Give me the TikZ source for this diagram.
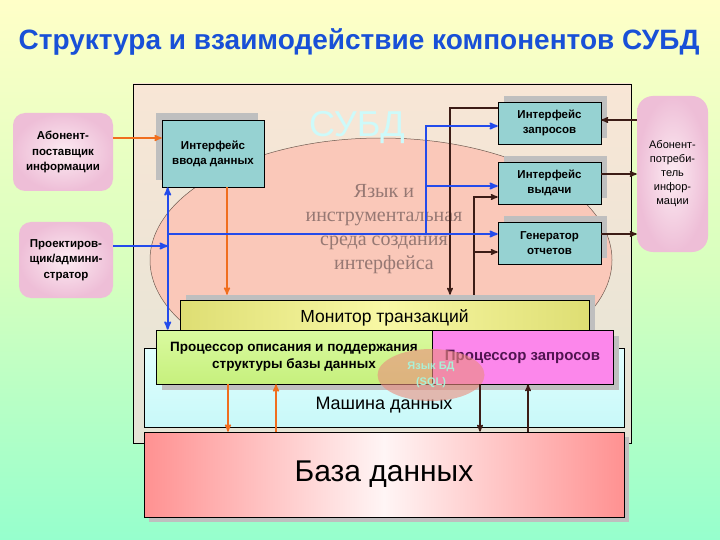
\documentclass[tikz,border=0pt]{standalone}
\usepackage{fontspec}
\setmainfont{Liberation Sans}
\newfontfamily\serifcyr{Liberation Serif}
\usepackage{tikz}
\usetikzlibrary{arrows,shapes.geometric,shadows}

\definecolor{titleblue}{RGB}{25,80,215}
\definecolor{bgtop}{RGB}{255,255,200}
\definecolor{bgmid}{RGB}{215,255,190}
\definecolor{bgbot}{RGB}{150,255,205}
\definecolor{frametop}{RGB}{248,230,214}
\definecolor{framebot}{RGB}{228,228,214}
\definecolor{ellipsefill}{RGB}{250,200,185}
\definecolor{ellipseline}{RGB}{110,90,80}
\definecolor{subdtext}{RGB}{205,250,250}
\definecolor{langtext}{RGB}{150,120,115}
\definecolor{ifacefill}{RGB}{150,210,210}
\definecolor{pinkin}{RGB}{252,235,242}
\definecolor{pinkout}{RGB}{238,190,215}
\definecolor{monside}{RGB}{222,222,115}
\definecolor{monmid}{RGB}{248,248,165}
\definecolor{engtop}{RGB}{225,255,255}
\definecolor{engbot}{RGB}{200,248,248}
\definecolor{descrtop}{RGB}{218,250,160}
\definecolor{descrbot}{RGB}{198,240,125}
\definecolor{qprocfill}{RGB}{252,135,235}
\definecolor{qproctext}{RGB}{80,20,80}
\definecolor{sqlfill}{RGB}{235,140,125}
\definecolor{sqltext}{RGB}{170,240,215}
\definecolor{dbside}{RGB}{255,145,145}
\definecolor{dbmid}{RGB}{255,245,245}
\definecolor{linkblue}{RGB}{35,75,235}
\definecolor{linkorange}{RGB}{240,110,30}
\definecolor{linkdark}{RGB}{60,28,22}

\begin{document}
\begin{tikzpicture}[x=1pt,y=-1pt,>=stealth',semithick,
    box/.style={draw=black,line width=0.6pt,inner sep=2pt,align=center},
    iface/.style={box,fill=ifacefill,minimum width=103pt,minimum height=42pt,font=\fontsize{11.5}{15}\selectfont\bfseries},
    shadowl/.style={drop shadow={shadow xshift=-6pt,shadow yshift=7pt,fill=black!25,opacity=1}},
    shadowr/.style={drop shadow={shadow xshift=6pt,shadow yshift=6pt,fill=black!25,opacity=1}},
    shadowb/.style={drop shadow={shadow xshift=6pt,shadow yshift=-6pt,fill=black!25,opacity=1}},
    actor/.style={rounded corners=12pt,inner color=pinkin,outer color=pinkout,align=center,inner sep=2pt},
    bluelink/.style={->,draw=linkblue,line width=1.8pt},
    orangelink/.style={->,draw=linkorange,line width=1.5pt},
    darklink/.style={->,draw=linkdark,line width=1.4pt}]
			\useasboundingbox (0,0) rectangle (720,540);
			\shade[top color=bgtop,bottom color=bgbot,middle color=bgmid] (0,0) rectangle (720,540);

			\node[font=\fontsize{28}{32}\selectfont\bfseries,text=titleblue] (title) at (359,42) {Структура и взаимодействие компонентов СУБД};

			\node[draw,line width=0.6pt,top color=frametop,bottom color=framebot,minimum width=498pt,minimum height=359pt] (dbms) at (382,263.5) {};
			\node[ellipse,draw=ellipseline,line width=0.5pt,fill=ellipsefill,minimum width=462pt,minimum height=244pt,inner sep=0pt] (lang) at (381,260) {};
			\node[font=\fontsize{36}{40}\selectfont,text=subdtext] (subd) at (357,128) {СУБД};
			\node[font=\serifcyr\fontsize{20}{24}\selectfont,text=langtext,align=center] (langtxt) at (384,229) {Язык и\\инструментальная\\среда создания\\интерфейса};

			\node[iface,shadowl,minimum width=102pt,minimum height=67pt] (inp) at (213,153.5) {Интерфейс\\ввода данных};
			\node[iface,shadowr] (qry) at (549.5,123) {Интерфейс\\запросов};
			\node[iface,shadowr] (out) at (549.5,183) {Интерфейс\\выдачи};
			\node[iface,shadowr] (rep) at (549.5,243) {Генератор\\отчетов};

			\node[actor,minimum width=100pt,minimum height=78pt,font=\fontsize{11.5}{15.5}\selectfont\bfseries] (supp) at (63,152) {Абонент-\\поставщик\\информации};
			\node[actor,minimum width=94pt,minimum height=76pt,font=\fontsize{11.5}{15.5}\selectfont\bfseries] (admin) at (66,260) {Проектиров-\\щик/админи-\\стратор};
			\node[actor,rounded corners=16pt,minimum width=71pt,minimum height=156pt,font=\fontsize{11}{14}\selectfont] (cons) at (672.5,174) {Абонент-\\потреби-\\тель\\инфор-\\мации};

			\node[box,drop shadow={shadow xshift=6pt,shadow yshift=5pt,fill=black!25,opacity=1},left color=monside,right color=monside,middle color=monmid,minimum width=409pt,minimum height=36pt,font=\fontsize{17.5}{20}\selectfont] (mon) at (384.5,318) {Монитор транзакций};
			\node[box,top color=engtop,bottom color=engbot,minimum width=480pt,minimum height=79pt] (eng) at (384,387.5) {};
			\node[font=\fontsize{18}{20}\selectfont] (englbl) at (384,405) {Машина данных};
			\node[box,shadowb,top color=descrtop,bottom color=descrbot,minimum width=276pt,minimum height=54pt,font=\fontsize{13.5}{17}\selectfont\bfseries] (descr) at (294,357) {Процессор описания и поддержания\\структуры базы данных};
			\node[box,shadowb,fill=qprocfill,text=qproctext,minimum width=181pt,minimum height=54pt,font=\fontsize{15}{18}\selectfont\bfseries] (qproc) at (522.5,357) {Процессор запросов};
			\node[ellipse,fill=sqlfill,fill opacity=0.6,text opacity=1,text=sqltext,minimum width=107pt,minimum height=52pt,align=center,font=\fontsize{11}{16}\selectfont\bfseries] (sql) at (431,375) {Язык БД\\(SQL)};

			\node[box,drop shadow={shadow xshift=5pt,shadow yshift=-5pt,fill=black!25,opacity=1},left color=dbside,right color=dbside,middle color=dbmid,minimum width=480pt,minimum height=85pt,font=\fontsize{30}{34}\selectfont] (db) at (384,474.5) {База данных};

			\coordinate (suppout) at ([yshift=14pt]supp.east);
			\coordinate (inpout) at ([xshift=14pt]inp.south);
			\coordinate (dd1) at ([xshift=-66pt]descr.south);
			\coordinate (dd2) at ([xshift=-18pt]descr.south);
			\draw[orangelink] (suppout) -- (suppout -| inp.west);
			\draw[orangelink,shorten >=5pt] (inpout) -- (inpout |- mon.north);
			\draw[orangelink] (dd1) -- (dd1 |- db.north);
			\draw[orangelink] (dd2 |- db.north) -- (dd2);

			\coordinate (qryout) at ([yshift=15pt]qry.west);
			\coordinate (monq) at ([xshift=65.5pt,yshift=5pt]mon.north);
			\coordinate (monr) at ([xshift=89.5pt,yshift=5pt]mon.north);
			\coordinate (outdark) at ([yshift=-14pt]out.west);
			\coordinate (repdark) at ([yshift=-9pt]rep.west);
			\draw[darklink] (qryout) -| (monq);
			\draw[darklink] (monr) |- (outdark);
			\draw[darklink] (monr |- repdark) -- (repdark);

			\coordinate (qryback) at ([yshift=3pt]qry.east);
			\coordinate (outfwd) at ([yshift=9pt]out.east);
			\coordinate (repfwd) at ([yshift=9pt]rep.east);
			\draw[darklink] (qryback -| cons.west) -- (qryback);
			\draw[darklink] (outfwd) -- (outfwd -| cons.west);
			\draw[darklink] (repfwd) -- (repfwd -| cons.west);

			\coordinate (qd1) at ([xshift=-42.5pt]qproc.south);
			\coordinate (qd2) at ([xshift=5.5pt]qproc.south);
			\draw[darklink] (qd1) -- (qd1 |- db.north);
			\draw[darklink] (qd2 |- db.north) -- (qd2);

			\coordinate (bus) at ([xshift=6pt]inp.south west);
			\coordinate (adminout) at ([yshift=14pt]admin.east);
			\coordinate (repin) at ([yshift=9pt]rep.west);
			\coordinate (qryin) at ([yshift=-3pt]qry.west);
			\coordinate (outin) at ([yshift=-3pt]out.west);
			\coordinate (split) at ([xshift=-72pt]repin);
			\draw[bluelink,<->] (bus) -- (bus |- descr.north);
			\draw[bluelink] (adminout) -- (adminout -| bus);
			\draw[bluelink] (bus |- repin) -- (repin);
			\draw[bluelink] (split) |- (qryin);
			\draw[bluelink] (split |- outin) -- (outin);
		\end{tikzpicture}
\end{document}
